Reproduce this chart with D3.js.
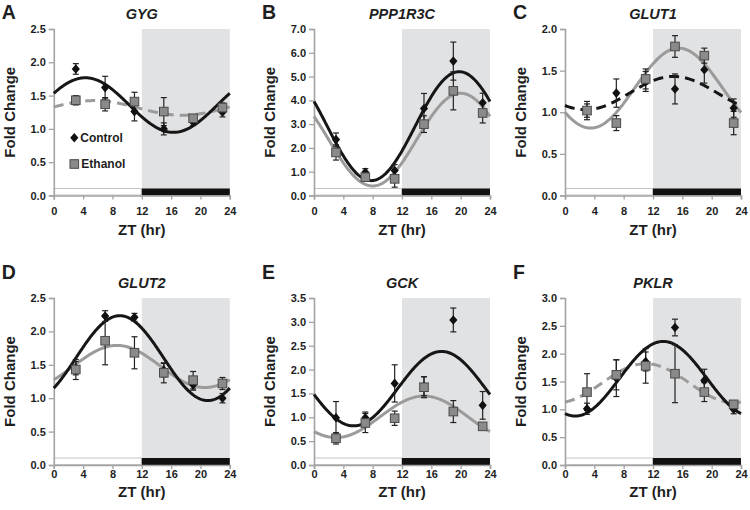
<!DOCTYPE html>
<html>
<head>
<meta charset="utf-8">
<script src="https://cdn.jsdelivr.net/npm/d3@7"></script>
<style>
  html, body { margin: 0; padding: 0; background: #ffffff; }
  svg { display: block; }
  text { font-family: "Liberation Sans", Arial, Helvetica, sans-serif; fill: #1e1e1e; }
</style>
</head>
<body>
<svg id="chart" width="750" height="510"></svg>
<script>
// ---------------- data ----------------
const panelLetters = ["A", "B", "C", "D", "E", "F"];
const geneNames = ["GYG", "PPP1R3C", "GLUT1", "GLUT2", "GCK", "PKLR"];
const yMaxValues = [2.5, 7.0, 2.0, 2.5, 3.5, 3.0];
const yTickSteps = [0.5, 1.0, 0.5, 0.5, 0.5, 0.5];
const xTickValues = [0, 4, 8, 12, 16, 20, 24];
const ztHours = [3, 7, 11, 15, 19, 23];
const seriesNames = ["Control", "Ethanol"];

const controlMean = [
  [1.90, 1.62, 1.26, 1.00, 1.10, 1.25],
  [2.35, 0.98, 1.05, 3.66, 5.65, 3.90],
  [1.02, 1.23, 1.37, 1.28, 1.51, 1.05],
  [1.45, 2.23, 2.21, 1.42, 1.20, 1.00],
  [0.99, 0.99, 1.71, 1.65, 3.04, 1.25],
  [1.01, 1.56, 1.86, 2.47, 1.52, 1.00]
];
const controlErr = [
  [0.08, 0.17, 0.14, 0.09, 0.05, 0.07],
  [0.28, 0.15, 0.25, 0.63, 0.80, 0.40],
  [0.08, 0.17, 0.12, 0.18, 0.16, 0.11],
  [0.10, 0.08, 0.06, 0.10, 0.08, 0.07],
  [0.34, 0.12, 0.39, 0.20, 0.25, 0.29],
  [0.10, 0.33, 0.17, 0.15, 0.20, 0.08]
];
const ethanolMean = [
  [1.43, 1.37, 1.41, 1.26, 1.16, 1.32],
  [1.81, 0.77, 0.70, 3.00, 4.40, 3.47],
  [1.02, 0.87, 1.40, 1.79, 1.68, 0.87],
  [1.43, 1.86, 1.68, 1.38, 1.27, 1.22],
  [0.56, 0.88, 0.98, 1.63, 1.12, 0.81],
  [1.31, 1.62, 1.78, 1.64, 1.31, 1.09]
];
const ethanolErr = [
  [0.07, 0.10, 0.14, 0.21, 0.04, 0.07],
  [0.32, 0.15, 0.35, 0.35, 0.80, 0.42],
  [0.11, 0.09, 0.12, 0.13, 0.09, 0.14],
  [0.15, 0.36, 0.24, 0.15, 0.13, 0.09],
  [0.12, 0.20, 0.15, 0.22, 0.23, 0.07],
  [0.33, 0.27, 0.31, 0.52, 0.17, 0.06]
];
// cosinor fits: [mesor, amplitude, acrophase (h)]
const controlFit = [
  [1.358, 0.41, 4.3],
  [2.915, 2.29, 19.8],
  [1.23, 0.20, 14.8],
  [1.60, 0.635, 9.0],
  [1.60, 0.78, 17.4],
  [1.55, 0.67, 13.4]
];
const ethanolFit = [
  [1.315, 0.11, 5.5],
  [2.35, 1.95, 20.0],
  [1.29, 0.48, 15.5],
  [1.475, 0.315, 8.6],
  [1.01, 0.435, 15.0],
  [1.47, 0.35, 11.0]
];
const controlDashed = [false, false, true, false, false, false];
const ethanolDashed = [true, false, false, false, false, true];

// ---------------- layout ----------------
const colLeft = [53.8, 314, 565];
const rowTop = [29, 298];
const plotW = 176;
const plotH = [166.5, 167];
const tickBaseline = [215, 477.5];
const xLabelBaseline = [234.5, 496.5];
const letterBaseline = [19, 279];
const titleBaseline = [19, 288];

const svg = d3.select("#chart");

const C_LINE = "#161616";
const E_LINE = "#9b9b9b";
const SHADE = "#e1e2e4";
const AXIS = "#a3a3a3";

function cosinor(p, t) {
  return p[0] + p[1] * Math.cos(2 * Math.PI * (t - p[2]) / 24);
}

const diamondPath = "M0,-4.8L4.1,0L0,4.8L-4.1,0Z";

panelLetters.forEach((letter, i) => {
  const col = i % 3, row = Math.floor(i / 3);
  const left = colLeft[col], top = rowTop[row], h = plotH[row];
  const x = d3.scaleLinear().domain([0, 24]).range([left, left + plotW]);
  const y = d3.scaleLinear().domain([0, yMaxValues[i]]).range([top + h, top]);
  const g = svg.append("g");

  // dark phase shading
  g.append("rect")
    .attr("x", x(12)).attr("y", y(yMaxValues[i]))
    .attr("width", x(24) - x(12)).attr("height", y(0) - y(yMaxValues[i]))
    .attr("fill", SHADE);

  // light/dark bar
  g.append("rect")
    .attr("x", x(0) + 0.5).attr("y", y(0) - 7)
    .attr("width", x(12) - x(0) - 1).attr("height", 6.5)
    .attr("fill", "#ffffff").attr("stroke", "#c4c4c4").attr("stroke-width", 1);
  g.append("rect")
    .attr("x", x(12)).attr("y", y(0) - 7)
    .attr("width", x(24) - x(12)).attr("height", 7)
    .attr("fill", "#111111");

  // axes
  const yTicks = d3.range(0, yMaxValues[i] + 1e-9, yTickSteps[i]);
  const yAxis = d3.axisLeft(y).tickValues(yTicks).tickFormat(d3.format(".1f"))
    .tickSize(5).tickPadding(3);
  const ya = g.append("g").attr("transform", `translate(${left},0)`).call(yAxis);
  const xAxis = d3.axisBottom(x).tickValues(xTickValues).tickSize(4).tickPadding(6);
  const xa = g.append("g").attr("transform", `translate(0,${top + h})`).call(xAxis);
  [ya, xa].forEach(a => {
    a.select(".domain").attr("stroke", AXIS).attr("stroke-width", 1.6);
    a.selectAll(".tick line").attr("stroke", AXIS).attr("stroke-width", 1.3);
    a.selectAll(".tick text")
      .attr("font-family", '"Liberation Sans", Arial, sans-serif')
      .attr("font-size", 11).attr("font-weight", "bold").attr("fill", "#1e1e1e");
  });
  xa.selectAll(".tick text").attr("dy", null).attr("y", tickBaseline[row] - (top + h));

  // axis titles
  g.append("text")
    .attr("transform", `translate(${left - 39},${top + h / 2}) rotate(-90)`)
    .attr("text-anchor", "middle")
    .attr("font-size", 15).attr("font-weight", "bold")
    .text("Fold Change");
  g.append("text")
    .attr("x", left + plotW / 2).attr("y", xLabelBaseline[row])
    .attr("text-anchor", "middle")
    .attr("font-size", 15).attr("font-weight", "bold")
    .text("ZT (hr)");

  // panel letter and gene title
  g.append("text")
    .attr("x", left - 52).attr("y", letterBaseline[row])
    .attr("font-size", 19.5).attr("font-weight", "bold")
    .text(letter);
  g.append("text")
    .attr("x", left + plotW / 2).attr("y", titleBaseline[row])
    .attr("text-anchor", "middle")
    .attr("font-size", 14.5).attr("font-weight", "bold").attr("font-style", "italic")
    .text(geneNames[i]);

  // fitted curves
  const ts = d3.range(0, 24.001, 0.1);
  const line = d3.line().x(t => x(t));
  g.append("path")
    .attr("d", line.y(t => y(cosinor(ethanolFit[i], t)))(ts))
    .attr("fill", "none").attr("stroke", E_LINE).attr("stroke-width", 3)
    .attr("stroke-dasharray", ethanolDashed[i] ? "10,6" : null);
  g.append("path")
    .attr("d", line.y(t => y(cosinor(controlFit[i], t)))(ts))
    .attr("fill", "none").attr("stroke", C_LINE).attr("stroke-width", 3)
    .attr("stroke-dasharray", controlDashed[i] ? "10,6" : null);

  // error bars
  function errBars(means, errs) {
    ztHours.forEach((t, k) => {
      const m = means[k], e = errs[k];
      const eg = g.append("g").attr("stroke", "#222").attr("stroke-width", 1.2);
      eg.append("line").attr("x1", x(t)).attr("x2", x(t)).attr("y1", y(m + e)).attr("y2", y(m - e));
      eg.append("line").attr("x1", x(t) - 3).attr("x2", x(t) + 3).attr("y1", y(m + e)).attr("y2", y(m + e));
      eg.append("line").attr("x1", x(t) - 3).attr("x2", x(t) + 3).attr("y1", y(m - e)).attr("y2", y(m - e));
    });
  }
  errBars(controlMean[i], controlErr[i]);
  errBars(ethanolMean[i], ethanolErr[i]);

  // markers
  g.selectAll(".dia").data(ztHours.map((t, k) => [t, controlMean[i][k]])).enter()
    .append("path").attr("d", diamondPath)
    .attr("transform", d => `translate(${x(d[0])},${y(d[1])})`)
    .attr("fill", "#111");
  g.selectAll(".sq").data(ztHours.map((t, k) => [t, ethanolMean[i][k]])).enter()
    .append("rect")
    .attr("x", d => x(d[0]) - 4.3).attr("y", d => y(d[1]) - 4.3)
    .attr("width", 8.6).attr("height", 8.6)
    .attr("fill", "#8a8a8a").attr("stroke", "#4a4a4a").attr("stroke-width", 1);

  // legend (panel A only)
  if (i === 0) {
    const lg = g.append("g");
    lg.append("path").attr("d", diamondPath)
      .attr("transform", `translate(${left + 20.5},${top + 108.7})`).attr("fill", "#111");
    lg.append("text").attr("x", left + 26.5).attr("y", top + 113)
      .attr("font-size", 12).attr("font-weight", "bold").text(seriesNames[0]);
    lg.append("rect").attr("x", left + 16.2).attr("y", top + 130.7)
      .attr("width", 8.6).attr("height", 8.6)
      .attr("fill", "#8a8a8a").attr("stroke", "#4a4a4a").attr("stroke-width", 1);
    lg.append("text").attr("x", left + 27.5).attr("y", top + 139.3)
      .attr("font-size", 12).attr("font-weight", "bold").text(seriesNames[1]);
  }
});
</script>
</body>
</html>
